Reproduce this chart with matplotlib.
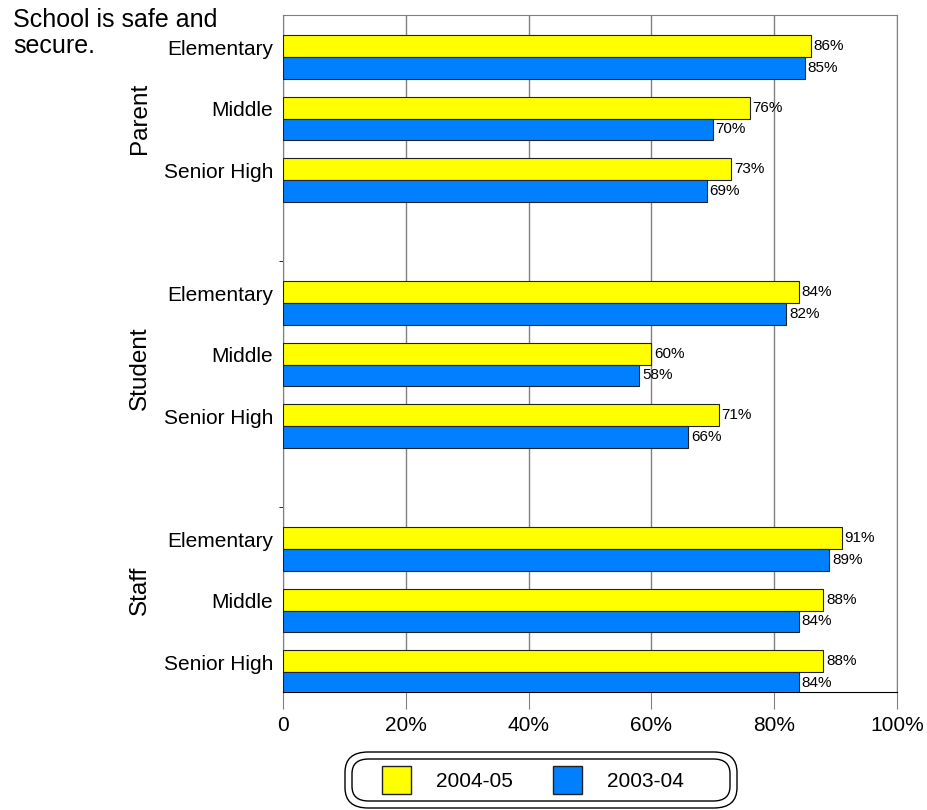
import matplotlib.pyplot as plt
from matplotlib.patches import FancyBboxPatch, Patch

plt.rcParams['font.family'] = ['Liberation Sans', 'DejaVu Sans']

title_lines = ["School is safe and", "secure."]
groups = ["Parent", "Student", "Staff"]
levels = ["Elementary", "Middle", "Senior High"]
series_names = ["2004-05", "2003-04"]
vals_0405 = [86, 76, 73, 84, 60, 71, 91, 88, 88]
vals_0304 = [85, 70, 69, 82, 58, 66, 89, 84, 84]
x_ticks = [0, 20, 40, 60, 80, 100]
x_tick_labels = ["0", "20%", "40%", "60%", "80%", "100%"]

yellow = "#FFFF00"
blue = "#0080FF"

fig = plt.figure(figsize=(9.27, 8.10), dpi=100)
W, H = 927, 810
ax = fig.add_axes([283 / W, 1 - 692 / H, 614 / W, 677 / H])

# one blank slot between groups
pos = []
for g in range(len(groups)):
    for k in range(len(levels)):
        pos.append(g * 4 + k)

bh = 0.35
for i, p in enumerate(pos):
    ax.barh(p - bh / 2, vals_0405[i], height=bh, color=yellow,
            edgecolor="#222222", linewidth=0.8, zorder=3)
    ax.barh(p + bh / 2, vals_0304[i], height=bh, color=blue,
            edgecolor="#222222", linewidth=0.8, zorder=3)
    ax.annotate(f"{vals_0405[i]}%", (vals_0405[i], p - bh / 2),
                xytext=(2, 0), textcoords="offset points",
                va="center", ha="left", fontsize=11)
    ax.annotate(f"{vals_0304[i]}%", (vals_0304[i], p + bh / 2),
                xytext=(2, 0), textcoords="offset points",
                va="center", ha="left", fontsize=11)

ax.set_xlim(0, 100)
ax.set_ylim(10.325, -0.683)
ax.set_xticks(x_ticks)
ax.set_xticklabels(x_tick_labels, fontsize=15)
ax.tick_params(axis="x", length=12, color="#808080", pad=5)
# level names sit level with the upper bar
ax.set_yticks([p - 0.16 for p in pos])
ax.set_yticklabels(levels * len(groups), fontsize=15)
ax.tick_params(axis="y", length=0, pad=7)
ax.set_yticks([3.317, 7.317], minor=True)
ax.tick_params(axis="y", which="minor", length=3, color="black")

ax.grid(axis="x", color="#808080", linewidth=1, zorder=0)
for side in ["left", "right", "top"]:
    ax.spines[side].set_color("#808080")
ax.spines["bottom"].set_color("black")

# group labels
group_y = [118, 368, 590]
for name, gy in zip(groups, group_y):
    fig.text(140 / W, 1 - gy / H, name, rotation=90, ha="center",
             va="center", fontsize=17.5)

fig.text(13 / W, 1 - 20 / H, title_lines[0], ha="left", va="center",
         fontsize=18)
fig.text(13 / W, 1 - 46 / H, title_lines[1], ha="left", va="center",
         fontsize=18)

# legend with double rounded frame
outer = FancyBboxPatch((345 / W, 1 - 808 / H), 392 / W, 56 / H,
                       boxstyle="round,pad=0,rounding_size=0.025",
                       transform=fig.transFigure, facecolor="white",
                       edgecolor="black", linewidth=1)
inner = FancyBboxPatch((352 / W, 1 - 801 / H), 378 / W, 42 / H,
                       boxstyle="round,pad=0,rounding_size=0.018",
                       transform=fig.transFigure, facecolor="none",
                       edgecolor="black", linewidth=1)
fig.patches.extend([outer, inner])
handles = [Patch(facecolor=yellow, edgecolor="#222222"),
           Patch(facecolor=blue, edgecolor="#222222")]
fig.legend(handles, series_names, loc="center",
           bbox_to_anchor=(533 / W, 1 - 780 / H), ncol=2, frameon=False,
           fontsize=15, handlelength=1.4, handleheight=1.7,
           handletextpad=1.2, columnspacing=1.9)

fig.savefig("out.png", dpi=100)
